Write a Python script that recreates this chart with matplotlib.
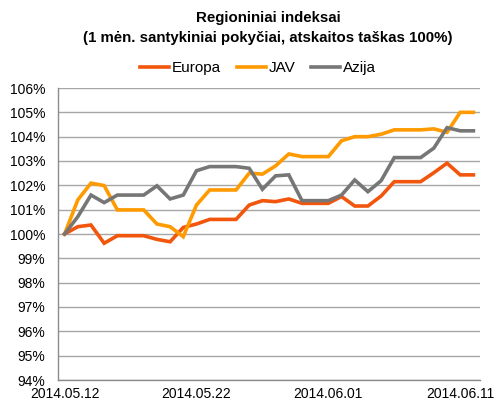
import matplotlib
matplotlib.use('Agg')
import matplotlib.pyplot as plt
from matplotlib.ticker import FixedLocator, FuncFormatter

plt.rcParams['font.family'] = ['Liberation Sans', 'DejaVu Sans']

# ── Data (index levels, % of start value) ───────────────────────────────────
tick_labels = ['2014.05.12', '2014.05.22', '2014.06.01', '2014.06.11']

europa = [100.00, 100.30, 100.37, 99.62, 99.93, 99.93, 99.93, 99.78,
          99.68, 100.27, 100.41, 100.60, 100.60, 100.60, 101.19, 101.37,
          101.33, 101.44, 101.26, 101.26, 101.26, 101.54, 101.15, 101.15,
          101.56, 102.15, 102.15, 102.15, 102.52, 102.91, 102.43, 102.43]
jav = [100.00, 101.40, 102.09, 101.99, 100.99, 100.99, 100.99, 100.41,
       100.30, 99.89, 101.19, 101.81, 101.81, 101.81, 102.50, 102.46,
       102.80, 103.29, 103.18, 103.18, 103.18, 103.83, 104.00, 104.00,
       104.10, 104.28, 104.28, 104.28, 104.32, 104.18, 105.00, 105.00]
azija = [100.00, 100.71, 101.60, 101.29, 101.60, 101.60, 101.60, 101.98,
         101.44, 101.60, 102.60, 102.77, 102.77, 102.77, 102.70, 101.84,
         102.39, 102.43, 101.37, 101.37, 101.37, 101.60, 102.22, 101.74,
         102.19, 103.14, 103.14, 103.14, 103.53, 104.37, 104.24, 104.24]

series = [('Europa', europa, '#F2560C'),
          ('JAV', jav, '#FF9A00'),
          ('Azija', azija, '#767676')]

# ── Figure ──────────────────────────────────────────────────────────────────
fig = plt.figure(figsize=(4.97, 4.08), dpi=100)
ax = fig.add_axes([58 / 497, 1 - 380 / 408, 422 / 497, 292 / 408])

x = list(range(len(europa)))
for name, vals, col in series:
    ax.plot(x, vals, color=col, lw=2.6, label=name, solid_joinstyle='miter')

ax.set_xlim(-0.5, len(x) - 0.5)
ax.set_ylim(94, 106)
ax.yaxis.set_major_locator(FixedLocator(range(94, 107)))
ax.yaxis.set_major_formatter(FuncFormatter(lambda v, p: f'{v:.0f}%'))
ax.set_xticks([0, 10, 20, 30])
ax.set_xticklabels(tick_labels)

ax.grid(axis='y', color='#A6A6A6', lw=1.0)
ax.set_axisbelow(True)
for s in ['top', 'right']:
    ax.spines[s].set_visible(False)
for s in ['left', 'bottom']:
    ax.spines[s].set_color('#8C8C8C')
    ax.spines[s].set_linewidth(1.0)
ax.tick_params(axis='y', length=0, pad=9, labelsize=10)
ax.tick_params(axis='x', length=0, pad=5, labelsize=10)

fig.text(268 / 497, 1 - 18 / 408, 'Regioniniai indeksai',
         ha='center', va='center', fontsize=10.8, fontweight='bold')
fig.text(268 / 497, 1 - 38 / 408,
         '(1 mėn. santykiniai pokyčiai, atskaitos taškas 100%)',
         ha='center', va='center', fontsize=10.8, fontweight='bold')

fig.legend(loc='center', bbox_to_anchor=(258 / 497, 1 - 68 / 408), ncol=3,
           frameon=False, fontsize=11, handlelength=1.9, handletextpad=0.2,
           columnspacing=1.0, borderpad=0)

fig.savefig('out.png', dpi=100)
